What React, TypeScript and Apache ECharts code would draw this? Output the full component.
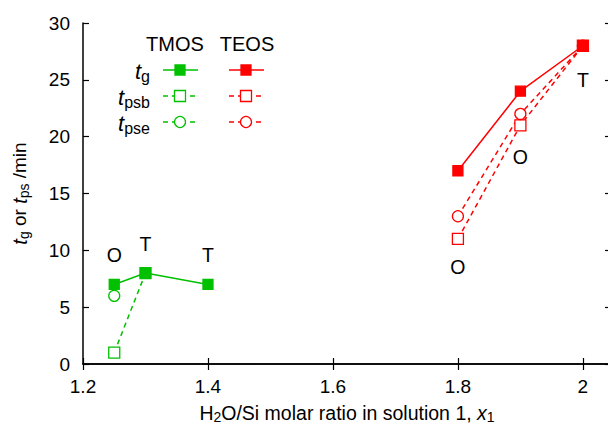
import React, { useEffect, useRef } from "react";
import * as echarts from "echarts";

const xTMOS = [1.25, 1.3, 1.4];
const tgTMOS = [7, 8, 7];
const xTMOSpsb = [1.25, 1.3];
const tpsbTMOS = [1, 8];
const xTMOSpse = [1.25];
const tpseTMOS = [6];
const xTEOS = [1.8, 1.9, 2.0];
const tgTEOS = [17, 24, 28];
const tpsbTEOS = [11, 21, 28];
const tpseTEOS = [13, 22, 28];
const annotX = [1.25, 1.3, 1.4, 1.8, 1.9, 2.0];
const annotY = [9.6, 10.6, 9.6, 8.5, 18.2, 25.0];
const annotText = ["O", "T", "T", "O", "O", "T"];

const GREEN = "#00c000";
const RED = "#ff0000";
const FONT = "Liberation Sans";

const zip = (xs: number[], ys: number[]) => xs.map((x, i) => [x, ys[i]]);

export default function App() {
  const ref = useRef<HTMLDivElement>(null);
  useEffect(() => {
    if (!ref.current) return;
    const chart = echarts.init(ref.current, null, { renderer: "svg" });
    const lineSeries = (data: number[][], color: string, symbol: string, filled: boolean, dashed: boolean, size: number) => ({
      type: "line",
      data,
      symbol,
      symbolSize: size,
      showSymbol: true,
      lineStyle: { color, width: 1.5, type: dashed ? [5, 4] : "solid" },
      itemStyle: { color: filled ? color : "#fff", borderColor: color, borderWidth: 1.3 },
      z: filled ? 5 : 3,
    });
    const subRich = {
      i: { fontStyle: "italic", fontSize: 22, fontFamily: FONT, color: "#000" },
      s: { fontSize: 16, fontFamily: FONT, color: "#000", padding: [10, 0, 0, 0] },
    };
    const legendRows = [
      { label: "{i|t}{s|g}", y: 70, symbol: "rect", filled: true, dashed: false },
      { label: "{i|t}{s|psb}", y: 96, symbol: "rect", filled: false, dashed: true },
      { label: "{i|t}{s|pse}", y: 122, symbol: "circle", filled: false, dashed: true },
    ];
    const graphics: any[] = [
      { type: "text", x: 175, y: 44, style: { text: "TMOS", font: `20px ${FONT}`, fill: "#000", align: "center", verticalAlign: "middle" } },
      { type: "text", x: 247, y: 44, style: { text: "TEOS", font: `20px ${FONT}`, fill: "#000", align: "center", verticalAlign: "middle" } },
    ];
    legendRows.forEach((r) => {
      graphics.push({
        type: "text", x: 150, y: r.y + 1,
        style: { text: r.label, rich: subRich, align: "right", verticalAlign: "middle" },
      });
      [
        { c: GREEN, x0: 163, x1: 198, xm: 180 },
        { c: RED, x0: 229, x1: 264, xm: 246 },
      ].forEach((g) => {
        graphics.push({
          type: "line",
          shape: { x1: g.x0, y1: r.y, x2: g.x1, y2: r.y },
          style: { stroke: g.c, lineWidth: 1.5, lineDash: r.dashed ? [5, 4] : null },
        });
        if (r.symbol === "rect") {
          const s = r.filled ? 10 : 11;
          graphics.push({
            type: "rect",
            shape: { x: g.xm - s / 2, y: r.y - s / 2, width: s, height: s },
            style: { fill: r.filled ? g.c : "#fff", stroke: g.c, lineWidth: 1.3 },
            z: 10,
          });
        } else {
          graphics.push({
            type: "circle",
            shape: { cx: g.xm, cy: r.y, r: 5.5 },
            style: { fill: "#fff", stroke: g.c, lineWidth: 1.3 },
            z: 10,
          });
        }
      });
    });

    const axisLine = { lineStyle: { color: "#000", width: 1.5 } };
    const axisTick = { inside: true, length: 6, lineStyle: { color: "#000", width: 1.2 } };

    chart.setOption({
      animation: false,
      backgroundColor: "#fff",
      grid: { left: 83, width: 528, top: 23, bottom: 63, containLabel: false, outerBoundsMode: "none" },
      xAxis: [
        {
          type: "value", min: 1.2, max: 2.045, interval: 0.2,
          axisLine, axisTick, splitLine: { show: false },
          axisLabel: { color: "#000", fontSize: 19, fontFamily: FONT, margin: 13, showMaxLabel: false,
            formatter: (v: number) => (Math.round(v * 10) / 10).toString() },
          name: "H{s|2}O/Si molar ratio in solution 1, {i|x}{s|1}",
          nameLocation: "middle", nameGap: 37,
          nameTextStyle: {
            color: "#000", fontSize: 19.5, fontFamily: FONT,
            rich: {
              i: { fontStyle: "italic", fontSize: 19.5, fontFamily: FONT, color: "#000" },
              s: { fontSize: 14, fontFamily: FONT, color: "#000", padding: [9, 0, 0, 0] },
            },
          },
        },
        {
          type: "value", position: "top", min: 1.2, max: 2.045, interval: 0.2,
          axisLine, axisTick, axisLabel: { show: false }, splitLine: { show: false },
        },
      ],
      yAxis: [
        {
          type: "value", min: 0, max: 30, interval: 5,
          axisLine, axisTick, splitLine: { show: false },
          axisLabel: { color: "#000", fontSize: 19, fontFamily: FONT, margin: 13 },
          name: "{i|t}{s|g} or {i|t}{s|ps} /min",
          nameLocation: "middle", nameGap: 52, nameRotate: 90,
          nameTextStyle: {
            color: "#000", fontSize: 19, fontFamily: FONT,
            rich: {
              i: { fontStyle: "italic", fontSize: 20, fontFamily: FONT, color: "#000" },
              s: { fontSize: 14, fontFamily: FONT, color: "#000", padding: [9, 0, 0, 0] },
            },
          },
        },
        {
          type: "value", position: "right", min: 0, max: 30, interval: 5,
          axisLine, axisTick: { show: true, inside: true, length: 6, lineStyle: { color: "#000", width: 1.2 } },
          axisLabel: { show: false }, splitLine: { show: false },
        },
      ],
      graphic: graphics,
      series: [
        lineSeries(zip(xTMOS, tgTMOS), GREEN, "rect", true, false, 10),
        lineSeries(zip(xTMOSpsb, tpsbTMOS), GREEN, "rect", false, true, 11),
        lineSeries(zip(xTMOSpse, tpseTMOS), GREEN, "circle", false, true, 11),
        lineSeries(zip(xTEOS, tgTEOS), RED, "rect", true, false, 10),
        lineSeries(zip(xTEOS, tpsbTEOS), RED, "rect", false, true, 11),
        lineSeries(zip(xTEOS, tpseTEOS), RED, "circle", false, true, 11),
        {
          type: "scatter",
          data: annotX.map((x, i) => [x, annotY[i], annotText[i]]),
          symbolSize: 1,
          itemStyle: { opacity: 0 },
          label: {
            show: true, position: "inside", color: "#000", fontSize: 19.5, fontFamily: FONT,
            textBorderWidth: 0, opacity: 1,
            formatter: (p: any) => p.value[2],
          },
          z: 8,
        },
      ],
    });
    return () => chart.dispose();
  }, []);
  return <div ref={ref} style={{ position: "fixed", left: 0, top: 0, width: 608, height: 427 }} />;
}
